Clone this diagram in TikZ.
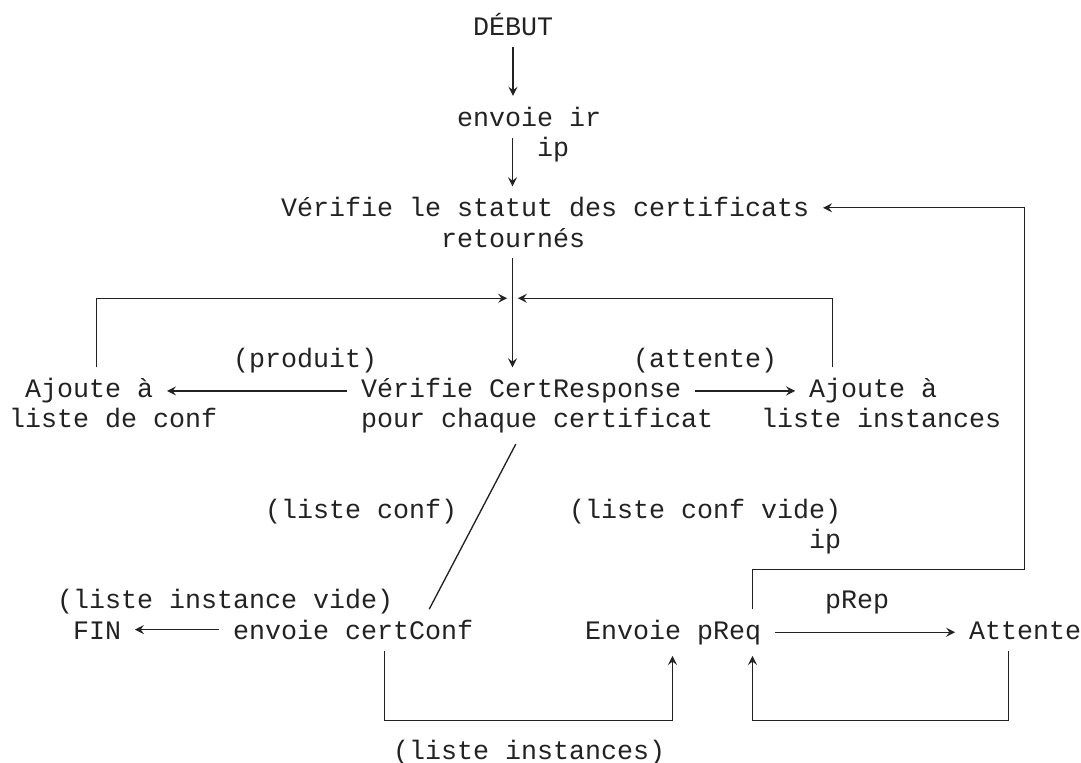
\documentclass[tikz,border=0pt]{standalone}
\usepackage{fontspec}
\setmonofont{Liberation Mono}
\usepackage{tikz}
\usetikzlibrary{arrows}
\definecolor{ink}{HTML}{222222}
\tikzstyle{txt} = [anchor=base west, inner xsep=3pt, inner ysep=2pt, text=ink, font=\ttfamily\fontsize{10}{12}\selectfont]
\tikzstyle{conn} = [draw=ink, line width=0.5pt, shorten <=2pt, shorten >=2pt]
\tikzstyle{arrow} = [conn,->,>=stealth]

\begin{document}
\begin{tikzpicture}[x=6pt, y=-11.31pt]
		\useasboundingbox (-0.53,-0.19) rectangle (67.03,25.1);
		% boites
		\node (debut) [txt] at (28.5,1) {DÉBUT};
		\node (envoi) [txt] at (27.5,4) {envoie ir};
		\node (statut) [txt] at (16.5,7) {Vérifie le statut des certificats};
		\node (retour) [txt] at (26.5,8) {retournés};
		\node (confa) [txt] at (0.5,13) {Ajoute à};
		\node (confb) [txt] at (-0.5,14) {liste de conf};
		\node (crepa) [txt] at (21.5,13) {Vérifie CertResponse};
		\node (crepb) [txt] at (21.5,14) {pour chaque certificat};
		\node (insta) [txt] at (49.5,13) {Ajoute à};
		\node (instb) [txt] at (46.5,14) {liste instances};
		\node (fin) [txt] at (3.5,21) {FIN};
		\node (certconf) [txt] at (13.5,21) {envoie certConf};
		\node (preq) [txt] at (35.5,21) {Envoie pReq};
		\node (attente) [txt] at (59.5,21) {Attente};
		% etiquettes
		\node (lblip) [txt] at (32.5,5) {ip};
		\node (lblproduit) [txt] at (13.5,12) {(produit)};
		\node (lblattente) [txt] at (38.5,12) {(attente)};
		\node (lblconf) [txt] at (15.5,17) {(liste conf)};
		\node (lblconfvide) [txt] at (34.5,17) {(liste conf vide)};
		\node (lblipb) [txt] at (49.5,18) {ip};
		\node (lblinstvide) [txt] at (2.5,20) {(liste instance vide)};
		\node (lblprep) [txt] at (50.5,20) {pRep};
		\node (lblinst) [txt] at (23.5,25) {(liste instances)};
		% coins
		\coordinate (jc) at (31.5,9.7);
		\coordinate (jl) at (5.5,9.7);
		\coordinate (jr) at (51.5,9.7);
		\coordinate (rt1) at (46.5,18.7);
		\coordinate (rt2) at (63.5,18.7);
		\coordinate (rt3) at (63.5,6.7);
		\coordinate (bl1) at (23.5,23.7);
		\coordinate (bl2) at (41.5,23.7);
		\coordinate (br1) at (46.5,23.7);
		\coordinate (br2) at (62.5,23.7);
		\coordinate (dg1) at (31.86,14);
		\coordinate (dg2) at (26.14,20);
		\draw [arrow] (debut.south) -- (debut.south |- envoi.north);
		\draw [arrow] (envoi.south -| jc) -- (statut.north -| jc);
		\draw [arrow] (retour.south -| jc) -- (crepa.north -| jc);
		\draw [arrow] (confa.north -| jl) -- (jl) -- (jc);
		\draw [arrow] (insta.north -| jr) -- (jr) -- (jc);
		\draw [arrow] (crepa.west) -- (crepa.west -| confa.east);
		\draw [arrow] (crepa.east) -- (crepa.east -| insta.west);
		\draw [conn] (crepb.south -| dg1) -- (certconf.north -| dg2);
		\draw [arrow] (certconf.west) -- (certconf.west -| fin.east);
		\draw [arrow] (certconf.south -| bl1) -- (bl1) -- (bl2) -- (preq.south -| bl2);
		\draw [arrow] (preq.east) -- (preq.east -| attente.west);
		\draw [arrow] (attente.south -| br2) -- (br2) -- (br1) -- (preq.south -| br1);
		\draw [arrow] (preq.north -| rt1) -- (rt1) -- (rt2) -- (rt3) -- (rt3 -| statut.east);
	\end{tikzpicture}
\end{document}
